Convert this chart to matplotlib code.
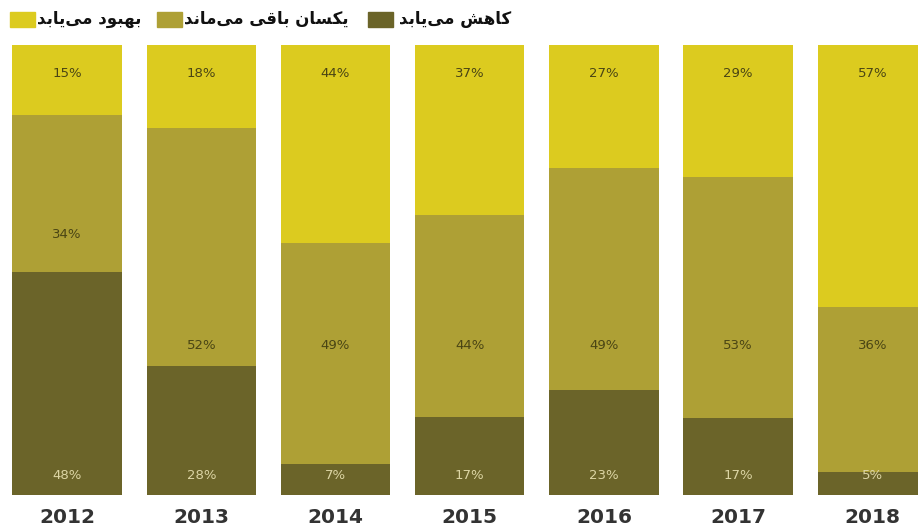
import matplotlib
matplotlib.use("Agg")
import matplotlib.pyplot as plt
from matplotlib.patches import Rectangle

years = ["2012", "2013", "2014", "2015", "2016", "2017", "2018"]
improves = [15, 18, 44, 37, 27, 29, 57]    # بهبود می‌یابد
same = [34, 52, 49, 44, 49, 53, 36]        # یکسان باقی می‌ماند
decreases = [48, 28, 7, 17, 23, 17, 5]     # کاهش می‌یابد

labels = ["بهبود می‌یابد", "یکسان باقی می‌ماند", "کاهش می‌یابد"]
colors = ["#dccb1f", "#aea035", "#6b6429"]

# tiny arabic shaper (matplotlib has no bidi / shaping)
FORMS = {
    "ا": ("\uFE8D", "\uFE8E", None, None),
    "ب": ("\uFE8F", "\uFE90", "\uFE91", "\uFE92"),
    "د": ("\uFEA9", "\uFEAA", None, None),
    "س": ("\uFEB1", "\uFEB2", "\uFEB3", "\uFEB4"),
    "ش": ("\uFEB5", "\uFEB6", "\uFEB7", "\uFEB8"),
    "ق": ("\uFED5", "\uFED6", "\uFED7", "\uFED8"),
    "م": ("\uFEE1", "\uFEE2", "\uFEE3", "\uFEE4"),
    "ن": ("\uFEE5", "\uFEE6", "\uFEE7", "\uFEE8"),
    "ه": ("\uFEE9", "\uFEEA", "\uFEEB", "\uFEEC"),
    "و": ("\uFEED", "\uFEEE", None, None),
    "ک": ("\uFB8E", "\uFB8F", "\uFB90", "\uFB91"),
    "ی": ("\uFBFC", "\uFBFD", "\uFBFE", "\uFBFF"),
}


def shape(s):
    out = []
    for i, c in enumerate(s):
        if c not in FORMS:
            if c != "\u200c":
                out.append(c)
            continue
        f = FORMS[c]
        prev = s[i - 1] if i > 0 else ""
        nxt = s[i + 1] if i + 1 < len(s) else ""
        join_prev = prev in FORMS and FORMS[prev][2] is not None
        join_next = f[2] is not None and nxt in FORMS
        if join_prev and join_next:
            out.append(f[3])
        elif join_prev:
            out.append(f[1])
        elif join_next:
            out.append(f[2])
        else:
            out.append(f[0])
    return "".join(reversed(out))


W, H = 918, 527
fig = plt.figure(figsize=(W / 100, H / 100), dpi=100)
ax = fig.add_axes([0, (H - 495) / H, 1, 450 / H])

x = list(range(len(years)))
tot = [a + b + c for a, b, c in zip(improves, same, decreases)]
p_dec = [d / t * 100 for d, t in zip(decreases, tot)]
p_same = [s / t * 100 for s, t in zip(same, tot)]
p_imp = [v / t * 100 for v, t in zip(improves, tot)]
mid_base = [d + s for d, s in zip(p_dec, p_same)]

bw = 0.815
ax.bar(x, p_dec, bw, color=colors[2])
ax.bar(x, p_same, bw, bottom=p_dec, color=colors[1])
ax.bar(x, p_imp, bw, bottom=mid_base, color=colors[0])

for i in x:
    ax.text(i, 93.6, f"{improves[i]}%", ha="center", va="center",
            fontsize=9.5, color="#4a4514", fontweight="medium")
    ymid = 33.3 if p_dec[i] < 40 else p_dec[i] + 8.5
    ax.text(i, ymid, f"{same[i]}%", ha="center", va="center",
            fontsize=9.5, color="#4a4514", fontweight="medium")
    ax.text(i, 4.4, f"{decreases[i]}%", ha="center", va="center",
            fontsize=9.5, color="#dcd5a4", fontweight="medium")
    ax.text(i, -4.9, years[i], ha="center", va="center", fontsize=14.5,
            color="#333333", fontweight="bold", clip_on=False)

ax.set_xlim(-0.5, 6.34)
ax.set_ylim(0, 100)
ax.axis("off")

# legend drawn by hand, square left of each label
sq_x = [10, 157, 368]
txt_x = [37, 184, 399]
for sx, tx, lab, col in zip(sq_x, txt_x, labels, colors):
    fig.patches.append(Rectangle((sx / W, (H - 27) / H), 25 / W, 15 / H,
                                 transform=fig.transFigure, color=col))
    fig.text(tx / W, (H - 19) / H, shape(lab), ha="left", va="center",
             fontsize=12, fontweight="bold", color="#111111",
             family="DejaVu Sans")

fig.savefig("out.png", dpi=100, facecolor="white")
